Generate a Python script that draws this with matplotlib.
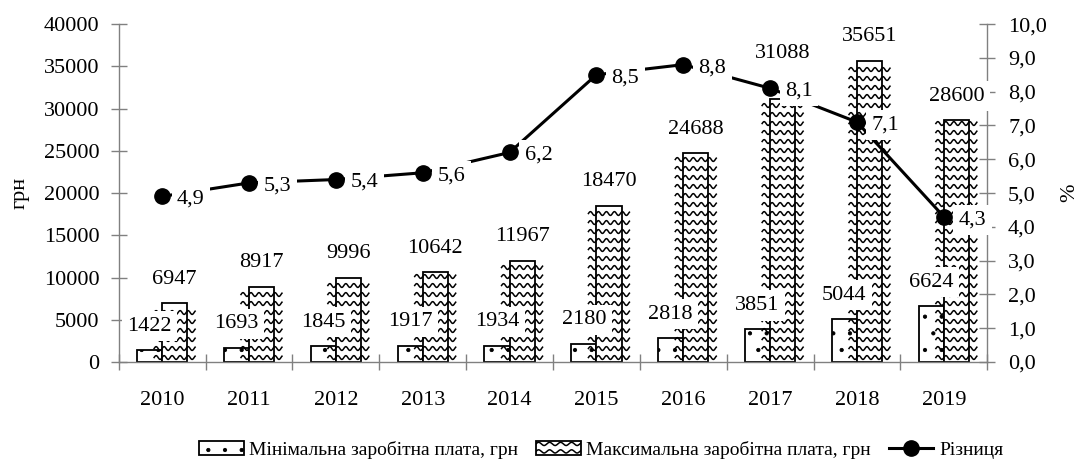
"""Мінімальна / максимальна заробітна плата та різниця, 2010-2019"""
import matplotlib
matplotlib.use('Agg')
import matplotlib.pyplot as plt
from matplotlib.lines import Line2D
from matplotlib.transforms import IdentityTransform
import numpy as np

YEARS = ['2010', '2011', '2012', '2013', '2014', '2015', '2016', '2017', '2018', '2019']
MIN_WAGE = [1422, 1693, 1845, 1917, 1934, 2180, 2818, 3851, 5044, 6624]
MAX_WAGE = [6947, 8917, 9996, 10642, 11967, 18470, 24688, 31088, 35651, 28600]
DIFF = [4.9, 5.3, 5.4, 5.6, 6.2, 8.5, 8.8, 8.1, 7.1, 4.3]
LEGEND = ['Мінімальна заробітна плата, грн', 'Максимальна заробітна плата, грн', 'Різниця']

# label lift above bar top, px (2017 label was moved up in the original)
MAX_LIFT = [24, 24, 24, 24, 24, 24, 24, 46, 24, 24]

plt.rcParams['font.family'] = 'Liberation Serif'
plt.rcParams['font.size'] = 16
plt.rcParams['hatch.linewidth'] = 0.6

AXIS = '#808080'
LBL_BOX = dict(boxstyle='square,pad=0.25', fc='white', ec='none')


def add_waves(patch, target, step=9.0, period=8.0, amp=1.9, lw=1.1, z=2):
    # wavy hatch drawn by hand, clipped to the patch (pixel coords)
    bb = patch.get_window_extent()
    xs = np.arange(bb.x0 - period, bb.x1 + period, 0.5)
    for y0 in np.arange(bb.y0 + step / 2, bb.y1 - 1, step):
        ys = y0 + amp * np.sin(2 * np.pi * (xs - bb.x0) / period)
        ln = Line2D(xs, ys, transform=IdentityTransform(), color='black',
                    lw=lw, zorder=z)
        ln.set_clip_path(patch)
        target.add_artist(ln)


fig = plt.figure(figsize=(10.79, 4.72), dpi=100)
ax = fig.add_axes([0.110, 0.233, 0.805, 0.716])
ax2 = ax.twinx()

x = np.arange(len(YEARS))
w = 0.29
b_min = ax.bar(x - w / 2, MIN_WAGE, w, color='white', edgecolor='black',
               linewidth=1.3, hatch='.', zorder=1)
b_max = ax.bar(x + w / 2, MAX_WAGE, w, color='white', edgecolor='black',
               linewidth=1.3, zorder=1)

line, = ax2.plot(x, DIFF, color='black', lw=2.2, marker='o', ms=11, zorder=3)

# bar value labels (on ax2 so they sit above the line)
for xi, v in zip(x - w / 2, MIN_WAGE):
    ax2.annotate(f"{v}", xy=(xi, v), xycoords=ax.transData, xytext=(0, 24),
                 textcoords='offset pixels', ha='center', va='center',
                 bbox=LBL_BOX, zorder=5)
for xi, v, lift in zip(x + w / 2, MAX_WAGE, MAX_LIFT):
    ax2.annotate(f"{v}", xy=(xi, v), xycoords=ax.transData, xytext=(0, lift),
                 textcoords='offset pixels', ha='center', va='center',
                 bbox=LBL_BOX, zorder=5)
for xi, v in zip(x, DIFF):
    ax2.annotate(f"{v:.1f}".replace('.', ','), xy=(xi, v), xytext=(15, -3),
                 textcoords='offset pixels', ha='left', va='center',
                 bbox=LBL_BOX, zorder=5)

# axes
ax.set_xlim(-0.5, len(YEARS) - 0.5)
ax.set_ylim(0, 40000)
ax.set_yticks(np.arange(0, 40001, 5000))
ax2.set_ylim(0, 10)
ax2.set_yticks(np.arange(0, 11, 1))
ax2.set_yticklabels([f"{t:.1f}".replace('.', ',') for t in np.arange(0, 11, 1)])

ax.set_xticks(np.arange(-0.5, len(YEARS), 1))
ax.set_xticklabels([])
ax.set_xticks(x, minor=True)
ax.set_xticklabels(YEARS, minor=True)
ax.tick_params(axis='x', which='major', direction='inout', length=12,
               color=AXIS, width=1)
ax.tick_params(axis='x', which='minor', length=0, pad=21)
ax.tick_params(axis='y', direction='inout', length=12, color=AXIS, width=1, pad=7.7)
ax2.tick_params(axis='y', direction='inout', length=12, color=AXIS, width=1, pad=9)

for s in ['top', 'right']:
    ax.spines[s].set_visible(False)
for s in ['top', 'left', 'bottom']:
    ax2.spines[s].set_visible(False)
for a, s in [(ax, 'left'), (ax, 'bottom'), (ax2, 'right')]:
    a.spines[s].set_color(AXIS)
    a.spines[s].set_linewidth(1)

ax.set_ylabel('грн')
ax.yaxis.set_label_coords(-0.1025, 0.5)
ax2.set_ylabel('%')
ax2.yaxis.set_label_coords(1.084, 0.5)

leg = fig.legend([b_min, b_max, line], LEGEND, loc='center',
                 bbox_to_anchor=(0.557, 0.047), ncol=3, frameon=False,
                 fontsize=14, handlelength=2.3, handleheight=0.75,
                 handletextpad=0.3, columnspacing=0.9)

fig.canvas.draw()
for bar in b_max:
    add_waves(bar, ax)
add_waves(leg.get_patches()[1], fig, step=7.5, period=11.0, amp=1.6, z=6)

fig.savefig('out.png', dpi=100)
